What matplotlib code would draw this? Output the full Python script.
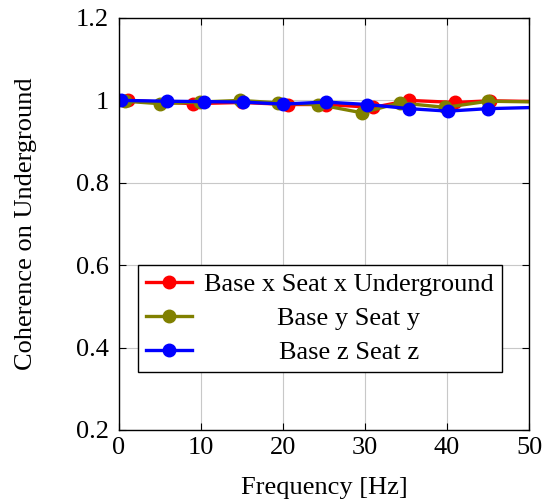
import matplotlib
matplotlib.use("Agg")
import matplotlib.pyplot as plt

plt.rcParams['font.family'] = ['Liberation Serif', 'DejaVu Serif']
plt.rcParams['mathtext.fontset'] = 'stix'

labels = ["Base x Seat x Underground", "Base y Seat y", "Base z Seat z"]
colors = ["#ff0000", "#808000", "#0000ff"]

fx = [1.1, 9.0, 15.0, 20.6, 25.3, 31.0, 35.4, 41.0, 45.2, 55.0]
vx = [1.000, 0.992, 0.995, 0.990, 0.990, 0.983, 1.000, 0.995, 0.999, 0.996]

fy = [0.7, 5.0, 9.9, 14.8, 19.4, 24.3, 29.6, 34.3, 39.8, 45.0, 55.0]
vy = [0.998, 0.992, 0.996, 1.000, 0.994, 0.990, 0.970, 0.994, 0.983, 0.998, 0.995]

fz = [0.3, 5.8, 10.4, 15.1, 20.0, 25.2, 30.3, 35.4, 40.1, 45.0, 55.0]
vz = [1.000, 0.998, 0.997, 0.996, 0.991, 0.996, 0.990, 0.980, 0.974, 0.980, 0.985]

xticks = [0, 10, 20, 30, 40, 50]
yticks = [0.2, 0.4, 0.6, 0.8, 1.0, 1.2]
ytick_labels = ["0.2", "0.4", "0.6", "0.8", "1", "1.2"]

FS = 19

fig = plt.figure(figsize=(5.54, 5.03), dpi=100)
ax = fig.add_axes([119/554, (503-430)/503, 410/554, 412/503])

for f, v, c, l in zip([fx, fy, fz], [vx, vy, vz], colors, labels):
    ax.plot(f, v, color=c, lw=2.4, marker='o', markersize=9, label=l, clip_on=True)

ax.set_xlim(0, 50)
ax.set_ylim(0.2, 1.2)
ax.set_xticks(xticks)
ax.set_yticks(yticks)
ax.set_yticklabels(ytick_labels)
ax.tick_params(direction='in', top=True, right=True, length=5, width=0.8,
               labelsize=FS)
ax.tick_params(axis='y', pad=7)
ax.tick_params(axis='x', pad=5)
ax.grid(True, color='#c8c8c8', lw=0.8)
ax.set_axisbelow(True)
for s in ax.spines.values():
    s.set_linewidth(1.0)
ax.set_xlabel("Frequency [Hz]", fontsize=FS, labelpad=13)
ax.set_ylabel("Coherence on Underground", fontsize=FS, labelpad=28)

leg = ax.legend(loc='lower center', bbox_to_anchor=(0.49, 0.141), fontsize=FS,
                fancybox=False, framealpha=1, edgecolor='black',
                handlelength=1.75, handletextpad=0.45, labelspacing=0.4,
                borderpad=0.3, borderaxespad=0)
leg.get_frame().set_linewidth(1.0)

fig.canvas.draw()
r = fig.canvas.get_renderer()
texts = leg.get_texts()
widths = [t.get_window_extent(r).width for t in texts]
wmax = max(widths)
for t, w in zip(texts, widths):
    t.set_x((wmax - w) / 2)

fig.savefig("out.png", dpi=100)
